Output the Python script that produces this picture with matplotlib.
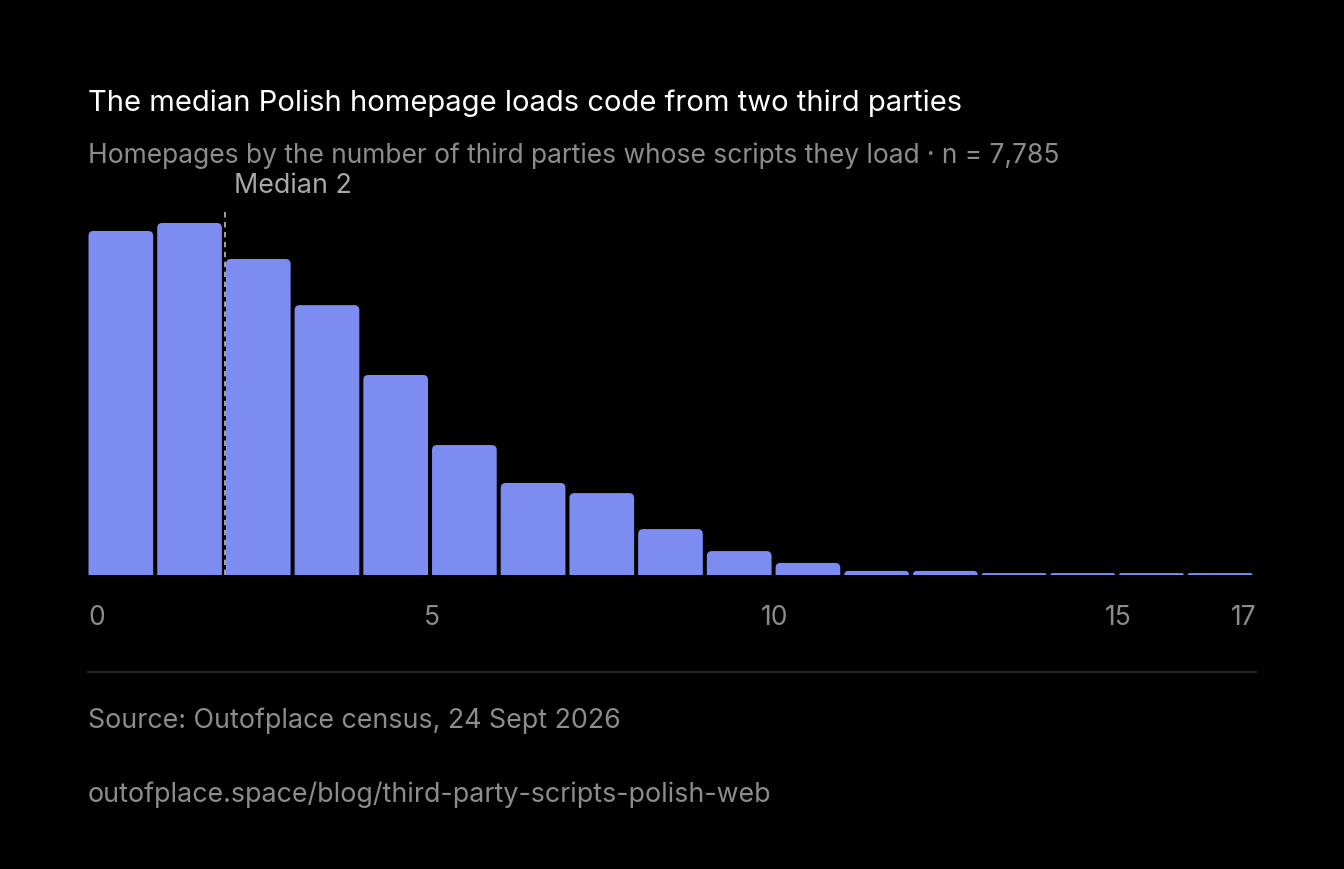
import numpy as np
import matplotlib.pyplot as plt
from matplotlib.path import Path
from matplotlib.patches import PathPatch

# homepages by number of third parties loading scripts (bins 0..16, axis to 17)
parties = list(range(17))
counts = [1424, 1457, 1308, 1117, 828, 538, 381, 339, 190, 99, 50, 17, 17, 8, 8, 8, 8]
median = 2
xticks = [0, 5, 10, 15, 17]

title = 'The median Polish homepage loads code from two third parties'
subtitle = 'Homepages by the number of third parties whose scripts they load \u00b7 n = 7,785'
source = 'Source: Outofplace census, 24 Sept 2026'
url = 'outofplace.space/blog/third-party-scripts-polish-web'

BG = '#000000'
BAR = '#7c8cf0'
GREY = '#8c8c8c'

plt.rcParams['font.family'] = ['Inter', 'DejaVu Sans']

W, H = 1344, 870
fig = plt.figure(figsize=(W / 100, H / 100), dpi=100, facecolor=BG)

# axes placed in pixel terms
left, right, top, base = 88, 1256, 212, 576
ax = fig.add_axes([left / W, 1 - base / H, (right - left) / W, (base - top) / H])
ax.set_facecolor(BG)
ymax = max(counts) * (base - top) / (base - 224)
ax.set_xlim(0, 17)
ax.set_ylim(0, ymax)

px_x = 17 / (right - left)
px_y = ymax / (base - top)
r_px = 5


def top_rounded_bar(x0, x1, h):
    ry = min(r_px * px_y, h)
    rx = r_px * px_x * ry / (r_px * px_y)
    verts = [(x0, 0), (x0, h - ry), (x0, h), (x0 + rx, h), (x1 - rx, h),
             (x1, h), (x1, h - ry), (x1, 0), (x0, 0)]
    codes = [Path.MOVETO, Path.LINETO, Path.CURVE3, Path.CURVE3, Path.LINETO,
             Path.CURVE3, Path.CURVE3, Path.LINETO, Path.CLOSEPOLY]
    return Path(verts, codes)


for p, c in zip(parties, counts):
    x0 = p + 0.5 * px_x
    x1 = p + 1 - 3.5 * px_x
    ax.add_patch(PathPatch(top_rounded_bar(x0, x1, c), facecolor=BAR,
                           edgecolor='none', zorder=2))

ax.axvline(median, ymin=0, ymax=1, color='#b0b0b0', lw=1.3,
           dashes=(3, 2.5), zorder=3)
ax.text(median + 9 * px_x, ymax + 19 * px_y, f'Median {median}', color='#a8a8a8',
        fontsize=19.3, ha='left', va='baseline', clip_on=False)

for s in ax.spines.values():
    s.set_visible(False)
ax.set_yticks([])
ax.set_xticks(xticks)
ax.set_xticklabels([str(t) for t in xticks])
ax.tick_params(axis='x', length=0, pad=21, colors=GREY, labelsize=19)
labels = ax.get_xticklabels()
labels[0].set_ha('left')
labels[-1].set_ha('right')

# header and footer text
fig.text(left / W, 1 - 111 / H, title, color='#ffffff', fontsize=21,
         ha='left', va='baseline')
fig.text(left / W, 1 - 163 / H, subtitle, color=GREY, fontsize=19,
         ha='left', va='baseline')
fig.add_artist(plt.Line2D([left / W, right / W], [1 - 673 / H, 1 - 673 / H],
                          color='#2e2e2e', lw=1.2))
fig.text(left / W, 1 - 728 / H, source, color=GREY, fontsize=19.3,
         ha='left', va='baseline')
fig.text(left / W, 1 - 802 / H, url, color=GREY, fontsize=19.3,
         ha='left', va='baseline')

fig.savefig('out.png', dpi=100, facecolor=BG)
